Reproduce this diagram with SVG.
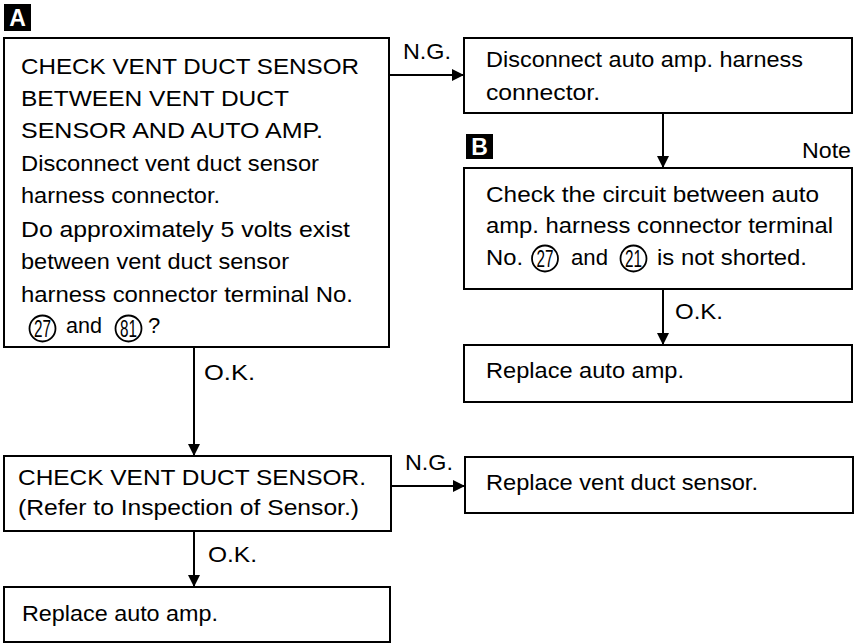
<svg xmlns="http://www.w3.org/2000/svg" width="862" height="644" viewBox="0 0 862 644">
<defs>
<marker id="ah" viewBox="0 0 12 12" refX="12" refY="6" markerWidth="12" markerHeight="12" markerUnits="userSpaceOnUse" orient="auto">
<path d="M0,0 L12,6 L0,12 Z" fill="#000"/>
</marker>
</defs>
<style>
text{font-family:"Liberation Sans",Arial,sans-serif;font-size:22px;fill:#000}
.box{fill:#fff;stroke:#000;stroke-width:2}
.con{fill:none;stroke:#000;stroke-width:2;marker-end:url(#ah)}
.cir{fill:none;stroke:#000;stroke-width:1.8}
.num{font-size:23px;text-anchor:middle}
.tag{fill:#000}
.tagt{fill:#fff;font-weight:bold;font-size:23px;text-anchor:middle}
</style>
<rect width="862" height="644" fill="#fff"/>

<g id="labelA">
<rect class="tag" x="4" y="4" width="27" height="27"/>
<text class="tagt" x="17.5" y="26">A</text>
</g>

<g id="nodeA">
<rect class="box" x="4" y="38" width="385" height="309"/>
<text x="21" y="74" textLength="338" lengthAdjust="spacingAndGlyphs">CHECK VENT DUCT SENSOR</text>
<text x="21" y="106" textLength="268" lengthAdjust="spacingAndGlyphs">BETWEEN VENT DUCT</text>
<text x="21" y="138" textLength="302" lengthAdjust="spacingAndGlyphs">SENSOR AND AUTO AMP.</text>
<text x="21" y="171" textLength="298" lengthAdjust="spacingAndGlyphs">Disconnect vent duct sensor</text>
<text x="21" y="203" textLength="199" lengthAdjust="spacingAndGlyphs">harness connector.</text>
<text x="21" y="237" textLength="329" lengthAdjust="spacingAndGlyphs">Do approximately 5 volts exist</text>
<text x="21" y="269" textLength="268" lengthAdjust="spacingAndGlyphs">between vent duct sensor</text>
<text x="21" y="302" textLength="332" lengthAdjust="spacingAndGlyphs">harness connector terminal No.</text>
<circle class="cir" cx="42.5" cy="328.5" r="13"/>
<text class="num" x="42.5" y="336.5" textLength="17" lengthAdjust="spacingAndGlyphs">27</text>
<text x="66" y="333" textLength="36" lengthAdjust="spacingAndGlyphs">and</text>
<circle class="cir" cx="128.5" cy="328.5" r="13"/>
<text class="num" x="128.5" y="336.5" textLength="17" lengthAdjust="spacingAndGlyphs">81</text>
<text x="148" y="333">?</text>
</g>

<g id="nodeDisconnect">
<rect class="box" x="464" y="38" width="388" height="75"/>
<text x="486" y="67" textLength="317" lengthAdjust="spacingAndGlyphs">Disconnect auto amp. harness</text>
<text x="486" y="100" textLength="114" lengthAdjust="spacingAndGlyphs">connector.</text>
</g>

<g id="labelB">
<rect class="tag" x="466" y="134" width="27" height="25"/>
<text class="tagt" x="479.5" y="155">B</text>
<text x="851" y="158" text-anchor="end" textLength="49" lengthAdjust="spacingAndGlyphs">Note</text>
</g>

<g id="nodeB">
<rect class="box" x="464" y="168" width="388" height="121"/>
<text x="486" y="202" textLength="333" lengthAdjust="spacingAndGlyphs">Check the circuit between auto</text>
<text x="486" y="233" textLength="347" lengthAdjust="spacingAndGlyphs">amp. harness connector terminal</text>
<text x="486" y="265" textLength="37" lengthAdjust="spacingAndGlyphs">No.</text>
<circle class="cir" cx="545" cy="258.5" r="13"/>
<text class="num" x="545" y="266.5" textLength="17" lengthAdjust="spacingAndGlyphs">27</text>
<text x="571" y="265" textLength="37" lengthAdjust="spacingAndGlyphs">and</text>
<circle class="cir" cx="633.5" cy="258.5" r="13"/>
<text class="num" x="633.5" y="266.5" textLength="17" lengthAdjust="spacingAndGlyphs">21</text>
<text x="657" y="265" textLength="150" lengthAdjust="spacingAndGlyphs">is not shorted.</text>
</g>

<g id="nodeReplaceAmp1">
<rect class="box" x="464" y="345" width="388" height="57"/>
<text x="486" y="378" textLength="198" lengthAdjust="spacingAndGlyphs">Replace auto amp.</text>
</g>

<g id="nodeCheckSensor">
<rect class="box" x="4" y="456" width="387" height="75"/>
<text x="18" y="485" textLength="348" lengthAdjust="spacingAndGlyphs">CHECK VENT DUCT SENSOR.</text>
<text x="18" y="515" textLength="341" lengthAdjust="spacingAndGlyphs">(Refer to Inspection of Sensor.)</text>
</g>

<g id="nodeReplaceSensor">
<rect class="box" x="465" y="457" width="388" height="56"/>
<text x="486" y="490" textLength="272" lengthAdjust="spacingAndGlyphs">Replace vent duct sensor.</text>
</g>

<g id="nodeReplaceAmp2">
<rect class="box" x="4" y="587" width="386" height="55"/>
<text x="22" y="621" textLength="196" lengthAdjust="spacingAndGlyphs">Replace auto amp.</text>
</g>

<g id="connectors">
<line class="con" x1="389" y1="75" x2="464" y2="75"/>
<line class="con" x1="663" y1="113" x2="663" y2="168"/>
<line class="con" x1="663" y1="289" x2="663" y2="345"/>
<line class="con" x1="194" y1="347" x2="194" y2="456"/>
<line class="con" x1="391" y1="486" x2="465" y2="486"/>
<line class="con" x1="194" y1="531" x2="194" y2="587"/>
<text x="403" y="59" textLength="48" lengthAdjust="spacingAndGlyphs">N.G.</text>
<text x="675" y="319" textLength="48" lengthAdjust="spacingAndGlyphs">O.K.</text>
<text x="204" y="380" textLength="51" lengthAdjust="spacingAndGlyphs">O.K.</text>
<text x="405" y="470" textLength="48" lengthAdjust="spacingAndGlyphs">N.G.</text>
<text x="208" y="562" textLength="49" lengthAdjust="spacingAndGlyphs">O.K.</text>
</g>
</svg>
